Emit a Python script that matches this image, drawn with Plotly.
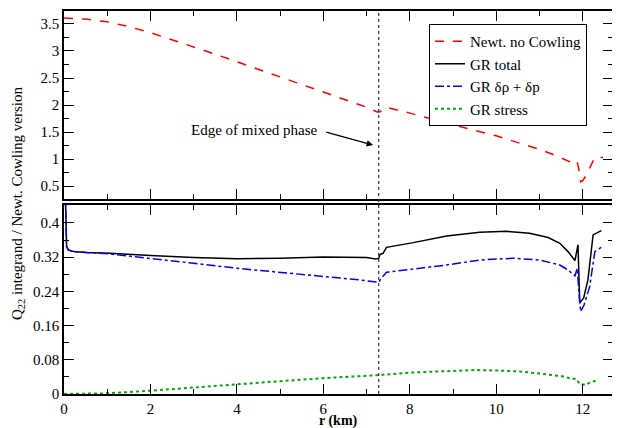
import plotly.graph_objects as go

# ---------------- data ----------------
r_newt = [0, 0.5, 1, 1.5, 2, 2.5, 3, 3.5, 4, 4.5, 5, 5.5, 6, 6.5, 7, 7.25, 7.3, 7.38, 7.45,
          8, 8.5, 9, 9.5, 10, 10.5, 11, 11.3, 11.62, 11.82, 11.87, 11.92, 11.95, 12.0,
          12.08, 12.2, 12.28, 12.47]
newt_no_cowling = [3.61, 3.59, 3.54, 3.45, 3.34, 3.21, 3.08, 2.94, 2.80, 2.66, 2.52, 2.38,
                   2.25, 2.11, 1.96, 1.87, 1.87, 1.92, 1.96, 1.85, 1.74, 1.63, 1.53, 1.43,
                   1.31, 1.18, 1.09, 0.98, 0.91, 0.95, 0.77, 0.58, 0.60, 0.70, 0.89, 1.03, 1.03]

r_total = [0, 0.04, 0.06, 0.1, 0.22, 0.5, 1.06, 2, 3, 4, 5, 6, 7, 7.21, 7.28, 7.31, 7.38,
           7.46, 8.08, 8.85, 9.62, 10.24, 10.77, 11.2, 11.47, 11.66, 11.82, 11.89, 11.93,
           12.02, 12.12, 12.24, 12.43]
gr_total = [0.60, 0.42, 0.345, 0.337, 0.333, 0.331, 0.329, 0.3236, 0.319, 0.3165, 0.3174,
            0.3205, 0.319, 0.316, 0.317, 0.326, 0.329, 0.343, 0.354, 0.3696, 0.378, 0.3805,
            0.376, 0.366, 0.3525, 0.333, 0.312, 0.349, 0.2136, 0.224, 0.267, 0.372, 0.382]

r_drho = [0, 0.04, 0.06, 0.1, 0.22, 1.06, 2, 3, 4, 5, 6, 6.85, 7.28, 7.34, 7.46, 8.08, 8.85,
          9.62, 10.39, 11.0, 11.47, 11.66, 11.82, 11.87, 11.95, 12.03, 12.16, 12.28, 12.43]
gr_drho_dp = [0.60, 0.42, 0.345, 0.337, 0.333, 0.3275, 0.3174, 0.3057, 0.294, 0.2847, 0.2744,
              0.2667, 0.261, 0.2706, 0.2847, 0.2917, 0.3017, 0.3134, 0.3174, 0.3134, 0.3017,
              0.29, 0.276, 0.294, 0.1925, 0.208, 0.251, 0.333, 0.343]

r_stress = [0, 0.5, 1.0, 2.0, 3.0, 4.0, 5.0, 6.0, 7.25, 8.0, 9.0, 9.5, 10.0, 10.5, 11.0,
            11.28, 11.43, 11.58, 11.72, 11.85, 11.93, 12.07, 12.2, 12.35]
gr_stress = [0, 0.0003, 0.0016, 0.0077, 0.0157, 0.0234, 0.030, 0.037, 0.044, 0.050, 0.055,
             0.056, 0.055, 0.053, 0.048, 0.0444, 0.042, 0.0405, 0.036, 0.0355, 0.0234, 0.021,
             0.029, 0.0313]

x_ticks = [0, 2, 4, 6, 8, 10, 12]
x_ticktext = ["0", "2", "4", "6", "8", "10", "12"]
x_minor = [1, 3, 5, 7, 9, 11]
top_ticks = [0.5, 1, 1.5, 2, 2.5, 3, 3.5]
top_ticktext = ["0.5", "1", "1.5", "2", "2.5", "3", "3.5"]
top_minor = [0.75, 1.25, 1.75, 2.25, 2.75, 3.25]
bot_ticks = [0, 0.08, 0.16, 0.24, 0.32, 0.4]
bot_ticktext = ["0", "0.08", "0.16", "0.24", "0.32", "0.4"]
bot_minor = [0.04, 0.12, 0.2, 0.28, 0.36]
mixed_phase_edge = 7.28

FONT = "Liberation Serif, Times New Roman, DejaVu Serif, serif"

fig = go.Figure()
fig.add_trace(go.Scatter(x=r_newt, y=newt_no_cowling, mode="lines", name="Newt. no Cowling",
                         line=dict(color="#ff0000", width=1.5, dash="dash"),
                         xaxis="x", yaxis="y"))
fig.add_trace(go.Scatter(x=r_total, y=gr_total, mode="lines", name="GR total",
                         line=dict(color="#000000", width=1.5),
                         xaxis="x2", yaxis="y2"))
fig.add_trace(go.Scatter(x=r_drho, y=gr_drho_dp, mode="lines", name="GR δρ + δp",
                         line=dict(color="#0000ff", width=1.5, dash="dashdot"),
                         xaxis="x2", yaxis="y2"))
fig.add_trace(go.Scatter(x=r_stress, y=gr_stress, mode="lines", name="GR stress",
                         line=dict(color="#00aa00", width=2, dash="dot"),
                         xaxis="x2", yaxis="y2"))

axis_common = dict(showgrid=False, zeroline=False, showline=True, linecolor="black",
                   linewidth=1.6, ticks="inside", ticklen=10, tickwidth=1.2,
                   tickcolor="black", mirror="allticks", tickmode="array",
                   automargin=False,
                   tickfont=dict(family=FONT, size=15, color="black"))


def minor(vals):
    return dict(ticks="inside", ticklen=5, tickwidth=1.2, tickcolor="black",
                tickmode="array", tickvals=vals)


# The page body adds an 8 px offset; margins are reduced to compensate.
fig.update_layout(
    width=620, height=428,
    margin=dict(l=56, r=15, t=3, b=42, autoexpand=False),
    paper_bgcolor="white", plot_bgcolor="white",
    font=dict(family=FONT, size=15, color="black"),
    xaxis=dict(domain=[0, 1], range=[0, 12.7], anchor="y", tickvals=x_ticks,
               ticktext=x_ticktext, showticklabels=False, minor=minor(x_minor),
               **axis_common),
    yaxis=dict(domain=[0.509, 1], range=[0.26, 3.74], anchor="x", tickvals=top_ticks,
               ticktext=top_ticktext, minor=minor(top_minor), **axis_common),
    xaxis2=dict(domain=[0, 1], range=[0, 12.7], anchor="y2", tickvals=x_ticks,
                ticktext=x_ticktext, minor=minor(x_minor), **axis_common),
    yaxis2=dict(domain=[0, 0.4935], range=[0, 0.442], anchor="x2", tickvals=bot_ticks,
                ticktext=bot_ticktext, minor=minor(bot_minor), **axis_common),
    legend=dict(x=0.9526, y=0.966, xanchor="right", yanchor="top", bgcolor="white",
                bordercolor="black", borderwidth=1,
                font=dict(family=FONT, size=15, color="black"), tracegroupgap=0),
    showlegend=True,
)

fig.add_shape(type="line", xref="x", yref="paper", x0=mixed_phase_edge, x1=mixed_phase_edge,
              y0=0, y1=1, line=dict(color="#333333", width=1.2, dash="dot"))

fig.add_annotation(xref="x", yref="y", x=5.92, y=1.53, xanchor="right", yanchor="middle",
                   text="Edge of mixed phase", showarrow=False,
                   font=dict(family=FONT, size=15, color="black"))
fig.add_annotation(xref="x", yref="y", x=7.15, y=1.26, ax=6.03, ay=1.506, axref="x",
                   ayref="y", text="", showarrow=True, arrowhead=2, arrowsize=1,
                   arrowwidth=1.3, arrowcolor="black")

fig.add_annotation(xref="paper", yref="paper", x=-0.0838, y=0.4987, xanchor="center",
                   yanchor="middle", textangle=-90, showarrow=False,
                   text="Q<sub>22</sub> integrand / Newt. Cowling version",
                   font=dict(family=FONT, size=15, color="black"))
fig.add_annotation(xref="paper", yref="paper", x=0.5, y=-0.07, xanchor="center",
                   yanchor="middle", showarrow=False, text="<b>r (km)</b>",
                   borderpad=0,
                   font=dict(family=FONT, size=14, color="black"))

fig.write_html("out.html")
